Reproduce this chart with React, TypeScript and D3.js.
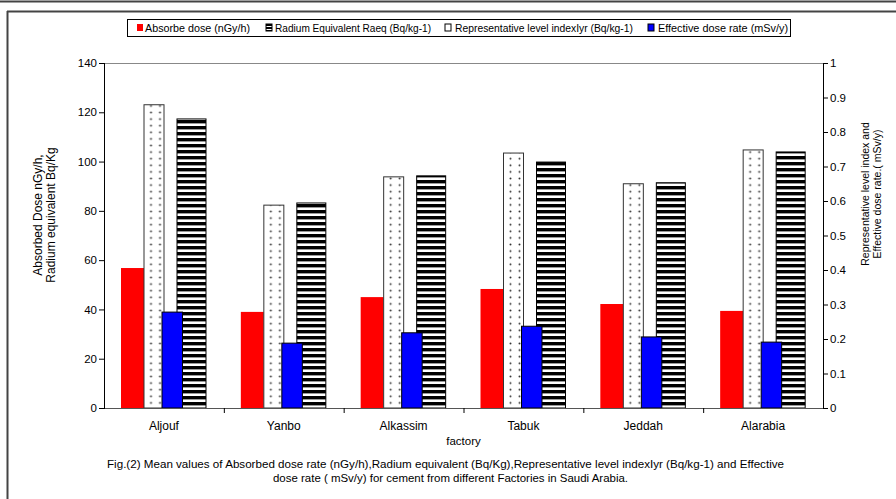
import React from "react";
import * as d3 from "d3";

const factories = ["Aljouf", "Yanbo", "Alkassim", "Tabuk", "Jeddah", "Alarabia"];
const absorbedDose = [56.8, 39.0, 45.0, 48.3, 42.2, 39.4];
const radiumEq = [117.3, 83.2, 94.2, 99.8, 91.4, 103.9];
const reprLevel = [0.879, 0.588, 0.670, 0.739, 0.650, 0.748];
const effDose = [0.278, 0.188, 0.218, 0.237, 0.206, 0.191];
const leftTicks = [0, 20, 40, 60, 80, 100, 120, 140];
const rightTicks = [0, 0.1, 0.2, 0.3, 0.4, 0.5, 0.6, 0.7, 0.8, 0.9, 1];
const legendLabels = [
  "Absorbe dose (nGy/h)",
  "Radium Equivalent Raeq (Bq/kg-1)",
  "Representative level indexIyr (Bq/kg-1)",
  "Effective dose rate  (mSv/y)",
];

const FONT = "'Liberation Sans', Arial, sans-serif";

export default function App() {
  const left = 104, right = 823, top = 63, bottom = 408;
  const x = d3.scaleBand<string>().domain(factories).range([left, right]).paddingInner(0).paddingOuter(0);
  const yL = d3.scaleLinear().domain([0, 140]).range([bottom, top]);
  const yR = d3.scaleLinear().domain([0, 1]).range([bottom, top]);
  const bw = x.bandwidth();
  const off = (f: number) => f * bw / 119.83;

  const legendSw = [
    { x: 137, fill: "#ff0000", stroke: "none" },
    { x: 266, fill: "url(#legStripe)", stroke: "#000" },
    { x: 445, fill: "#fff", stroke: "#000" },
    { x: 648, fill: "#0000ff", stroke: "#000" },
  ];
  const legendTextX = [145, 275, 455, 658];
  const legendTextW = [105, 156, 178, 130];

  return (
    <svg width={896} height={499} style={{ position: "absolute", left: 0, top: 0, background: "#fff" }} fontFamily={FONT}>
      <defs>
        <pattern id="stripes" patternUnits="userSpaceOnUse" width={8} height={6}>
          <rect x={0} y={0} width={8} height={6} fill="#fff" />
          <rect x={0} y={0} width={8} height={3.4} fill="#000" />
        </pattern>
        <pattern id="legStripe" patternUnits="userSpaceOnUse" width={4} height={3}>
          <rect width={4} height={3} fill="#fff" />
          <rect width={4} height={2} fill="#000" />
        </pattern>
        {factories.map((f, i) => (
          <pattern key={f} id={`dots-${i}`} patternUnits="userSpaceOnUse" x={(x(f) as number) + off(40) + 2.5} y={top} width={9} height={6.6}>
            <rect width={9} height={6.6} fill="#fff" />
            <circle cx={4.5} cy={3.3} r={1} fill="#333" />
          </pattern>
        ))}
      </defs>

      {/* frame */}
      <line x1={0} x2={896} y1={1.5} y2={1.5} stroke="#444" strokeWidth={2} />
      <line x1={7} x2={896} y1={11.5} y2={11.5} stroke="#444" strokeWidth={2} />
      <line x1={7.5} x2={7.5} y1={11} y2={499} stroke="#444" strokeWidth={2} />

      {/* legend */}
      <rect x={127.5} y={19.5} width={663} height={17} fill="#fff" stroke="#000" strokeWidth={1} />
      {legendSw.map((s, i) => (
        <g key={i}>
          <rect x={s.x} y={24} width={6} height={7} fill={s.fill} stroke={s.stroke} strokeWidth={s.stroke === "none" ? 0 : 1} />
          <text x={legendTextX[i]} y={31.5} fontSize={10} textLength={legendTextW[i]} lengthAdjust="spacingAndGlyphs" fill="#000">
            {legendLabels[i]}
          </text>
        </g>
      ))}

      {/* plot top border */}
      <line x1={left} x2={right} y1={top + 0.5} y2={top + 0.5} stroke="#888" strokeWidth={1} />

      {/* bars */}
      {factories.map((f, i) => {
        const bx = x(f) as number;
        return (
          <g key={f}>
            <rect x={bx + off(17)} y={yL(absorbedDose[i])} width={off(23)} height={bottom - yL(absorbedDose[i])} fill="#ff0000" />
            <rect x={bx + off(73)} y={yL(radiumEq[i])} width={off(29)} height={bottom - yL(radiumEq[i])} fill="url(#stripes)" stroke="#000" strokeWidth={1} />
            <rect x={bx + off(40)} y={yR(reprLevel[i])} width={off(20)} height={bottom - yR(reprLevel[i])} fill={`url(#dots-${i})`} stroke="#333" strokeWidth={1} />
            <rect x={bx + off(58)} y={yR(effDose[i])} width={off(20.5)} height={bottom - yR(effDose[i])} fill="#0000ff" stroke="#000" strokeWidth={1} />
          </g>
        );
      })}

      {/* axes */}
      <line x1={left} x2={right} y1={bottom + 0.5} y2={bottom + 0.5} stroke="#555" strokeWidth={1.2} />
      <line x1={left + 0.5} x2={left + 0.5} y1={top} y2={bottom + 1} stroke="#000" strokeWidth={1} />
      <line x1={right + 0.5} x2={right + 0.5} y1={top} y2={bottom + 1} stroke="#000" strokeWidth={1} />
      {leftTicks.map((t) => (
        <g key={t}>
          <line x1={left - 5} x2={left} y1={yL(t) + 0.5} y2={yL(t) + 0.5} stroke="#000" />
          <text x={left - 7} y={yL(t) + 4.2} fontSize={11.5} textAnchor="end" fill="#000">{t}</text>
        </g>
      ))}
      {rightTicks.map((t) => (
        <g key={t}>
          <line x1={right} x2={right + 5} y1={yR(t) + 0.5} y2={yR(t) + 0.5} stroke="#000" />
          <text x={right + 7} y={yR(t) + 4.2} fontSize={11.5} textAnchor="start" fill="#000">{d3.format("~g")(t)}</text>
        </g>
      ))}
      {factories.slice(1).map((f) => (
        <line key={f} x1={(x(f) as number) + 0.5} x2={(x(f) as number) + 0.5} y1={bottom} y2={bottom + 5} stroke="#000" />
      ))}
      {factories.map((f) => (
        <text key={f} x={(x(f) as number) + bw / 2} y={430} fontSize={12} textAnchor="middle" fill="#000">{f}</text>
      ))}
      <text x={(left + right) / 2} y={445} fontSize={11.5} textAnchor="middle" fill="#000">factory</text>

      {/* axis titles */}
      <g transform={`translate(41.5, 215) rotate(-90)`}>
        <text x={0} y={0} fontSize={12} textAnchor="middle" fill="#000">Absorbed Dose nGy/h,</text>
        <text x={0} y={13} fontSize={12} textAnchor="middle" fill="#000">Radium equivalent Bq/Kg</text>
      </g>
      <g transform={`translate(869, 194) rotate(-90)`}>
        <text x={0} y={0} fontSize={10.5} textAnchor="middle" fill="#000">Representative level index and</text>
        <text x={0} y={12} fontSize={10.5} textAnchor="middle" fill="#000">Effective dose rate.( mSv/y)</text>
      </g>

      {/* caption */}
      <text x={107} y={468} fontSize={11} textLength={677} lengthAdjust="spacingAndGlyphs" fill="#000">
        Fig.(2) Mean values of Absorbed dose rate (nGy/h),Radium equivalent (Bq/Kg),Representative level indexIyr (Bq/kg-1) and Effective
      </text>
      <text x={273} y={482} fontSize={11} textLength={355} lengthAdjust="spacingAndGlyphs" fill="#000">
        dose rate ( mSv/y) for cement from different Factories in Saudi Arabia.
      </text>
    </svg>
  );
}
